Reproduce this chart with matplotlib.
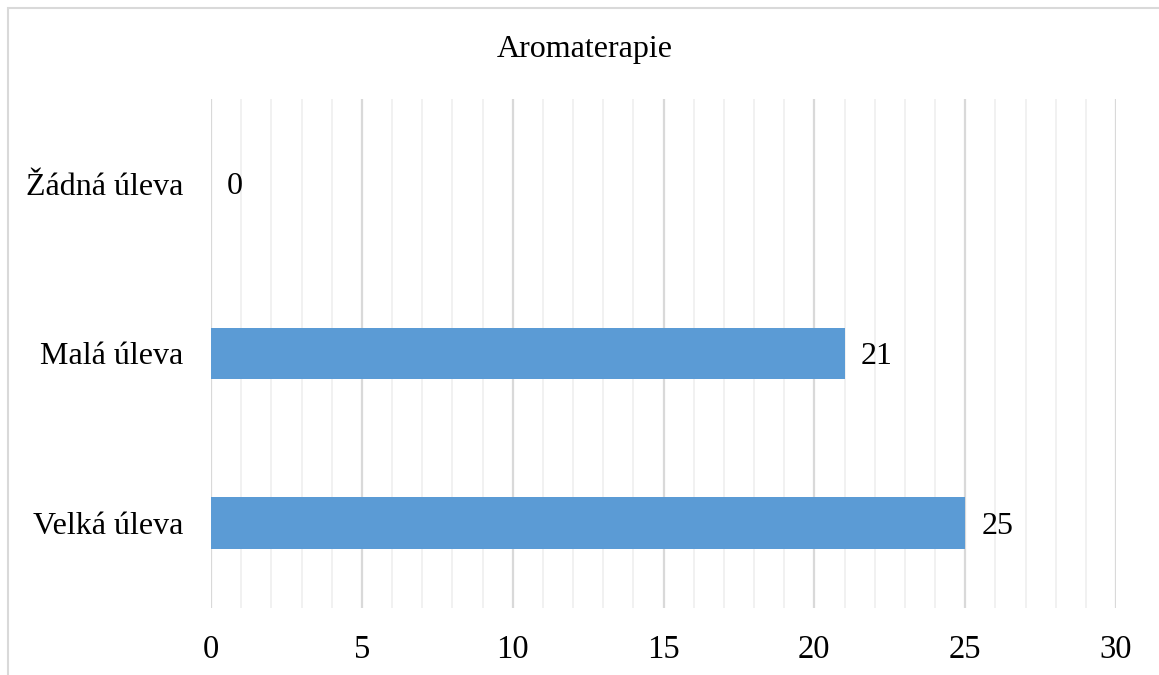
import matplotlib
matplotlib.use("Agg")
import matplotlib.pyplot as plt
from matplotlib.patches import Rectangle
from matplotlib.ticker import MultipleLocator

categories = ["Velká úleva", "Malá úleva", "Žádná úleva"]
values = [25, 21, 0]
x_ticks = [0, 5, 10, 15, 20, 25, 30]
title = "Aromaterapie"

plt.rcParams["font.family"] = ["Liberation Serif", "DejaVu Serif"]

W, H = 1159, 675
fig = plt.figure(figsize=(W / 100, H / 100), dpi=100)
fig.patch.set_facecolor("white")

# outer chart frame
fig.patches.append(Rectangle((8 / W, -0.02), 1.05, 1 - 8 / H + 0.02,
                             transform=fig.transFigure, fill=False,
                             edgecolor="#d9d9d9", linewidth=1.5, zorder=0))

ax = fig.add_axes([211 / W, (H - 608) / H, (1116 - 211) / W, (608 - 99) / H])
ypos = list(range(len(categories)))
ax.barh(ypos, values, height=0.306, color="#5B9BD5", zorder=3)

ax.set_xlim(0, 30)
ax.set_ylim(-0.5, 2.5)
ax.set_xticks(x_ticks)
ax.set_xticklabels([str(t) for t in x_ticks])
ax.xaxis.set_minor_locator(MultipleLocator(1))
ax.set_yticks(ypos)
ax.set_yticklabels(categories)

ax.grid(axis="x", which="major", color="#d9d9d9", linewidth=1.6, zorder=1)
ax.grid(axis="x", which="minor", color="#f0f0f0", linewidth=1.3, zorder=1)
ax.set_axisbelow(True)

ax.tick_params(axis="both", which="both", length=0, colors="black")
ax.tick_params(axis="x", labelsize=23.5, pad=19)
ax.tick_params(axis="y", labelsize=23, pad=20)
for s in ax.spines.values():
    s.set_visible(False)

for y, v in zip(ypos, values):
    ax.annotate(str(v), xy=(v, y), xytext=(16, -3), textcoords="offset pixels",
                va="center", ha="left", fontsize=23, color="black")

fig.text(585 / W, 1 - 49 / H, title, ha="center", va="center", fontsize=23, color="black")

fig.savefig("out.png", dpi=100, facecolor="white")
